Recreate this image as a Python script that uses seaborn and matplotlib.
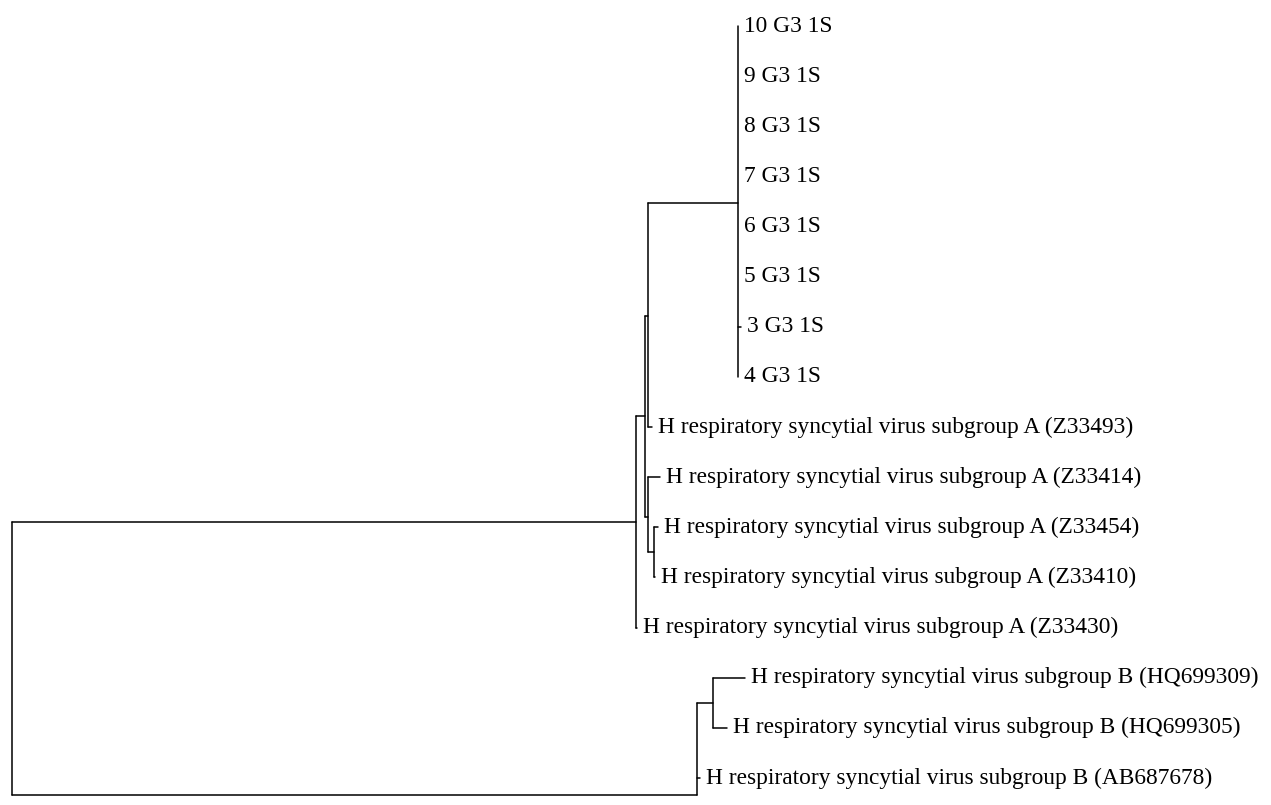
import numpy as np
import pandas as pd
import matplotlib
matplotlib.use("Agg")
import matplotlib.pyplot as plt
import seaborn as sns

# tips, top to bottom (row = index)
tip_labels = ["10 G3 1S", "9 G3 1S", "8 G3 1S", "7 G3 1S", "6 G3 1S", "5 G3 1S",
              "3 G3 1S", "4 G3 1S",
              "H respiratory syncytial virus subgroup A (Z33493)",
              "H respiratory syncytial virus subgroup A (Z33414)",
              "H respiratory syncytial virus subgroup A (Z33454)",
              "H respiratory syncytial virus subgroup A (Z33410)",
              "H respiratory syncytial virus subgroup A (Z33430)",
              "H respiratory syncytial virus subgroup B (HQ699309)",
              "H respiratory syncytial virus subgroup B (HQ699305)",
              "H respiratory syncytial virus subgroup B (AB687678)"]
tip_depth = [0.726, 0.726, 0.726, 0.726, 0.726, 0.726, 0.729, 0.726,
             0.640, 0.648, 0.646, 0.643, 0.625, 0.733, 0.715, 0.688]
tip_parent = ["G3"] * 8 + ["N2", "N3", "N4", "N4", "A", "HQ", "HQ", "B"]

# internal nodes (depth from root, row where the stem attaches)
node_names = ["root", "A", "N1", "N2", "G3", "N3", "N4", "B", "HQ"]
node_depth = [0.000, 0.624, 0.633, 0.636, 0.726, 0.636, 0.642, 0.685, 0.701]
node_row = [12.6, 9.89, 7.78, 5.79, 3.53, 9.79, 10.5, 15.34, 13.5]
node_parent = [None, "root", "A", "N1", "N2", "N1", "N3", "root", "B"]

sns.set_theme(style="white")
plt.rcParams["font.family"] = ["Liberation Serif", "DejaVu Serif"]

depth = dict(zip(node_names, node_depth))
row = dict(zip(node_names, node_row))

# build segments: horizontal branch for every child, vertical for every node
segs = []
children = {n: [] for n in node_names}
for i, (d, p) in enumerate(zip(tip_depth, tip_parent)):
    children[p].append(i)
    segs.append(((depth[p], i), (d, i)))
for n, p in zip(node_names, node_parent):
    if p is None:
        continue
    children[p].append(row[n])
    segs.append(((depth[p], row[n]), (depth[n], row[n])))
for n in node_names:
    rows = list(children[n])
    if n != "root":
        rows.append(row[n])
    segs.append(((depth[n], min(rows)), (depth[n], max(rows))))

recs = []
for k, (a, b) in enumerate(segs):
    recs.append({"seg": k, "x": a[0], "y": a[1]})
    recs.append({"seg": k, "x": b[0], "y": b[1]})
df = pd.DataFrame(recs)

fig = plt.figure(figsize=(12.71, 8.05), dpi=100)
ax = fig.add_axes([0, 0, 1, 1])
sns.lineplot(data=df, x="x", y="y", units="seg", estimator=None, sort=False,
             color="black", linewidth=1.1, ax=ax)

for i, (lab, d) in enumerate(zip(tip_labels, tip_depth)):
    ax.annotate(lab, xy=(d, i), xytext=(4.5, 0), textcoords="offset points",
                va="center", ha="left", fontsize=16.8, color="black")

ax.set_xlim(-0.012, 1.259)
ax.set_ylim(15.54, -0.52)
ax.axis("off")
fig.savefig("out.png", dpi=100)
